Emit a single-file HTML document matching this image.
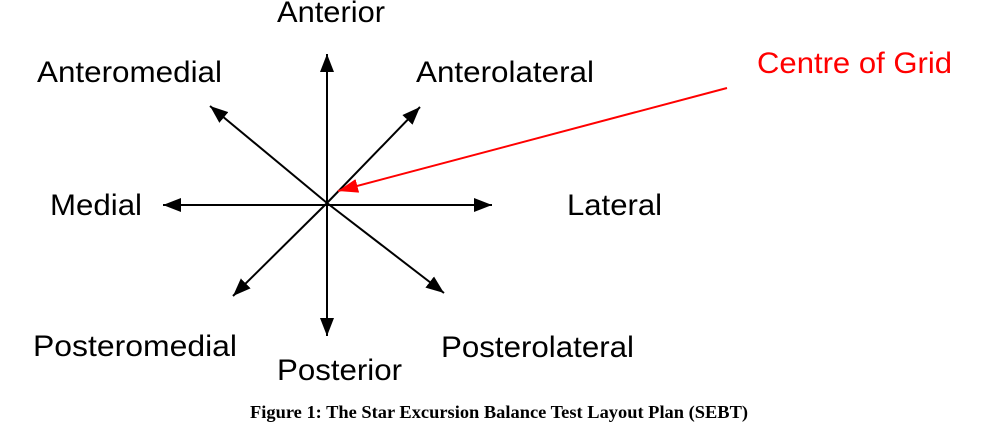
<!DOCTYPE html>
<html><head><style>
body{margin:0;background:#fff;width:999px;height:433px;overflow:hidden;position:relative}
svg{position:absolute;left:0;top:0}
</style></head><body>
<svg width="999" height="433" viewBox="0 0 999 433">
<defs>
<marker id="b" markerWidth="18" markerHeight="14" refX="18" refY="7" orient="auto" markerUnits="userSpaceOnUse"><path d="M0,0 L18,7 L0,14 z" fill="#000"/></marker>
<marker id="r" markerWidth="20" markerHeight="14" refX="20" refY="7" orient="auto" markerUnits="userSpaceOnUse"><path d="M0,0 L20,7 L0,14 z" fill="#f00"/></marker>
</defs>
<g stroke="#000" stroke-width="2" fill="none">
<line x1="327" y1="203" x2="327" y2="54" marker-end="url(#b)"/>
<line x1="327" y1="203" x2="327" y2="336" marker-end="url(#b)"/>
<line x1="327" y1="205" x2="163" y2="205" marker-end="url(#b)"/>
<line x1="327" y1="205" x2="492" y2="205" marker-end="url(#b)"/>
<line x1="327" y1="203" x2="210" y2="106" marker-end="url(#b)"/>
<line x1="327" y1="203" x2="420" y2="107" marker-end="url(#b)"/>
<line x1="327" y1="203" x2="233" y2="296" marker-end="url(#b)"/>
<line x1="327" y1="203" x2="444" y2="293" marker-end="url(#b)"/>
</g>
<line x1="727" y1="88" x2="338" y2="191" stroke="#f00" stroke-width="2" marker-end="url(#r)"/>
<g font-family="Liberation Sans, sans-serif" font-size="30" fill="#000" lengthAdjust="spacingAndGlyphs">
<text x="277" y="22" textLength="108" lengthAdjust="spacingAndGlyphs">Anterior</text>
<text x="37" y="82" textLength="185" lengthAdjust="spacingAndGlyphs">Anteromedial</text>
<text x="416" y="82" textLength="178" lengthAdjust="spacingAndGlyphs">Anterolateral</text>
<text x="50" y="215" textLength="92" lengthAdjust="spacingAndGlyphs">Medial</text>
<text x="567" y="215" textLength="95" lengthAdjust="spacingAndGlyphs">Lateral</text>
<text x="33" y="356" textLength="204" lengthAdjust="spacingAndGlyphs">Posteromedial</text>
<text x="277" y="380" textLength="125" lengthAdjust="spacingAndGlyphs">Posterior</text>
<text x="441" y="357" textLength="193" lengthAdjust="spacingAndGlyphs">Posterolateral</text>
<text x="757" y="73" fill="#f00" textLength="195" lengthAdjust="spacingAndGlyphs">Centre of Grid</text>
</g>
<text x="250" y="418" textLength="498" lengthAdjust="spacingAndGlyphs" font-family="Liberation Serif, serif" font-weight="bold" font-size="18">Figure 1: The Star Excursion Balance Test Layout Plan (SEBT)</text>
</svg>
</body></html>
